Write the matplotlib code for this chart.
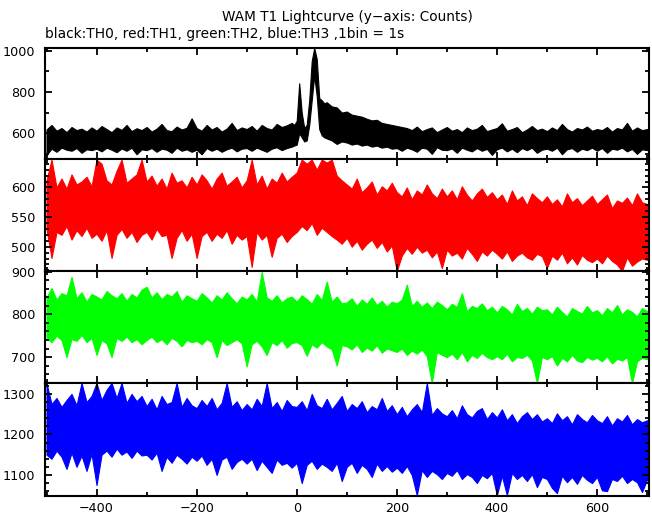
import numpy as np
import matplotlib.pyplot as plt
from matplotlib.ticker import MultipleLocator

plt.rcParams['font.family'] = ['DejaVu Sans']

# time grid (1bin = 1s, envelope read per 10 s)
t = np.arange(-500, 701, 10)
# TH0 has a finer grid around the burst
t_th0 = np.concatenate([np.arange(-500, -5, 10), np.arange(-5, 61, 5), np.arange(70, 701, 10)])

# TH0 (black) upper / lower envelope
th0_hi = [618, 640, 612, 625, 605, 630, 615, 622, 608, 628,
          612, 635, 620, 605, 628, 616, 640, 610, 624, 615,
          630, 608, 622, 645, 615, 610, 632, 618, 626, 672,
          625, 612, 640, 618, 630, 608, 622, 650, 615, 628,
          620, 635, 612, 640, 625, 618, 645, 630, 638, 650,
          640, 660, 842, 700, 625, 640, 760, 950, 1013, 960, 770, 760, 745, 750,
          730, 725, 700, 705, 690, 685, 680, 670, 662, 665, 650, 645, 640,
          635, 630, 625, 615, 632, 610, 620, 628, 605, 618,
          630, 612, 620, 605, 628, 615, 622, 640, 610, 618,
          625, 648, 612, 620, 630, 605, 618, 635, 615, 622,
          610, 628, 615, 645, 620, 608, 625, 618, 632, 612,
          620, 615, 630, 608, 625, 618, 650, 612, 628, 615,
          620]
th0_lo = [495, 525, 510, 530, 520, 515, 528, 505, 522, 518,
          525, 512, 530, 520, 508, 526, 515, 530, 498, 522,
          518, 528, 510, 525, 520, 505, 530, 515, 522, 510,
          520, 498, 528, 515, 525, 510, 522, 530, 512, 525,
          528, 515, 530, 520, 510, 525, 532, 518, 528, 535,
          540, 545, 600, 580, 560, 565, 640, 760, 880, 780, 620, 590, 580, 575,
          565, 548, 560, 555, 545, 550, 540, 545, 535, 540, 530, 535, 525,
          528, 515, 530, 522, 510, 530, 525, 500, 532, 520,
          518, 526, 505, 530, 520, 512, 528, 515, 524, 495,
          522, 530, 512, 525, 508, 528, 518, 530, 505, 520,
          525, 515, 530, 498, 522, 528, 510, 525, 518, 530,
          515, 528, 505, 525, 520, 530, 512, 524, 500, 522,
          518]

# TH1 (red)
th1_hi = [612, 647, 600, 615, 598, 622, 605, 610, 618, 602,
          647, 640, 612, 605, 628, 647, 608, 615, 622, 647,
          610, 620, 603, 615, 598, 625, 608, 612, 600, 618,
          605, 622, 612, 598, 615, 625, 603, 610, 618, 600,
          612, 647, 605, 620, 598, 615, 608, 625, 610, 618,
          625, 647, 640, 647, 630, 647, 642, 647, 620, 612,
          605, 598, 615, 592, 600, 610, 588, 602, 595, 608,
          592, 585, 600, 580, 595, 588, 605, 590, 582, 598,
          585, 595, 580, 602, 588, 578, 590, 598, 584, 592,
          580, 588, 572, 595, 578, 585, 570, 590, 582, 575,
          585, 572, 580, 568, 590, 575, 582, 570, 578, 586,
          572, 580, 588, 565, 578, 574, 583, 570, 590, 575,
          572]
th1_lo = [530, 481, 525, 520, 535, 512, 528, 518, 532, 515,
          522, 510, 528, 481, 520, 530, 515, 525, 508, 520,
          525, 512, 530, 518, 520, 481, 515, 528, 510, 522,
          481, 518, 525, 510, 522, 515, 528, 505, 520, 512,
          518, 466, 525, 512, 520, 483, 515, 522, 508, 518,
          525, 535, 528, 540, 520, 532, 525, 518, 512, 505,
          515, 500, 510, 495, 505, 512, 498, 508, 492, 502,
          459, 485, 498, 488, 500, 490, 495, 482, 492, 464,
          495, 485, 490, 480, 498, 488, 476, 492, 485, 495,
          488, 480, 492, 476, 485, 490, 482, 478, 488, 484,
          464, 485, 478, 490, 472, 482, 470, 486, 478, 474,
          480, 472, 485, 476, 470, 459, 482, 468, 475, 480,
          478]

# TH2 (green)
th2_hi = [840, 862, 835, 850, 845, 888, 838, 852, 830, 848,
          842, 835, 855, 845, 838, 850, 832, 848, 840, 858,
          865, 840, 852, 836, 848, 842, 855, 830, 845, 838,
          832, 850, 840, 828, 845, 835, 852, 838, 826, 842,
          835, 848, 830, 900, 840, 832, 845, 828, 838, 842,
          830, 845, 836, 825, 848, 834, 877, 830, 842, 826,
          828, 838, 820, 835, 825, 840, 822, 832, 818, 830,
          826, 835, 870, 820, 832, 818, 828, 815, 830, 822,
          812, 825, 818, 850, 808, 820, 815, 826, 810, 818,
          805, 820, 812, 800, 825, 808, 815, 802, 818, 810,
          812, 800, 818, 806, 795, 815, 808, 802, 820, 805,
          810, 798, 815, 805, 822, 800, 812, 806, 795, 815,
          808]
th2_lo = [745, 735, 750, 740, 700, 742, 738, 752, 735, 745,
          705, 740, 732, 700, 745, 738, 748, 735, 742, 730,
          740, 748, 735, 742, 730, 745, 738, 725, 740, 735,
          738, 730, 742, 735, 700, 740, 728, 735, 742, 732,
          678, 730, 738, 725, 705, 735, 728, 740, 722, 733,
          735, 728, 703, 730, 722, 735, 725, 718, 680, 728,
          725, 718, 730, 712, 722, 715, 728, 710, 720, 716,
          712, 720, 705, 715, 708, 718, 702, 639, 712, 705,
          700, 708, 695, 712, 690, 705, 698, 710, 700, 695,
          702, 695, 708, 690, 700, 698, 705, 692, 639, 700,
          695, 702, 680, 698, 690, 705, 692, 688, 700, 694,
          698, 690, 702, 685, 696, 692, 700, 639, 690, 698,
          695]

# TH3 (blue)
th3_hi = [1327, 1275, 1290, 1268, 1285, 1300, 1272, 1327, 1280, 1295,
          1327, 1285, 1310, 1327, 1290, 1327, 1278, 1300, 1282, 1295,
          1270, 1288, 1262, 1295, 1275, 1280, 1327, 1268, 1290, 1272,
          1265, 1285, 1270, 1290, 1262, 1278, 1327, 1268, 1282, 1260,
          1275, 1262, 1288, 1270, 1327, 1265, 1280, 1258, 1285, 1270,
          1268, 1282, 1260, 1300, 1272, 1265, 1288, 1262, 1278, 1295,
          1258, 1275, 1265, 1282, 1255, 1270, 1262, 1290, 1258, 1272,
          1250, 1268, 1245, 1262, 1275, 1255, 1327, 1248, 1265, 1252,
          1245, 1260, 1240, 1272, 1250, 1242, 1258, 1265, 1238, 1255,
          1242, 1262, 1235, 1250, 1228, 1245, 1255, 1238, 1250, 1232,
          1240, 1228, 1252, 1235, 1245, 1225, 1250, 1238, 1230, 1248,
          1235, 1228, 1245, 1222, 1240, 1232, 1248, 1225, 1238, 1230,
          1235]
th3_lo = [1150, 1140, 1160, 1145, 1115, 1155, 1120, 1148, 1110, 1152,
          1075, 1150, 1160, 1145, 1165, 1150, 1158, 1142, 1160, 1148,
          1150, 1138, 1155, 1110, 1145, 1130, 1150, 1140, 1128, 1145,
          1135, 1148, 1125, 1140, 1100, 1138, 1145, 1115, 1132, 1140,
          1128, 1140, 1112, 1135, 1120, 1105, 1138, 1125, 1130, 1118,
          1130, 1080, 1125, 1135, 1115, 1128, 1120, 1110, 1130, 1085,
          1120, 1130, 1105, 1125, 1115, 1095, 1128, 1110, 1122, 1108,
          1118, 1105, 1122, 1100, 1050, 1112, 1095, 1110, 1102, 1090,
          1105, 1098, 1112, 1090, 1102, 1095, 1080, 1100, 1092, 1105,
          1050, 1098, 1050, 1105, 1090, 1100, 1085, 1102, 1070, 1095,
          1090, 1068, 1055, 1098, 1082, 1095, 1078, 1100, 1088, 1080,
          1095, 1062, 1060, 1090, 1085, 1098, 1080, 1090, 1082, 1058,
          1088]

panels = [
    (t_th0, th0_hi, th0_lo, 'black', (475, 1013), 200, 100),
    (t, th1_hi, th1_lo, '#ff0000', (459, 648), 50, 10),
    (t, th2_hi, th2_lo, '#00ff00', (639, 902), 100, 20),
    (t, th3_hi, th3_lo, '#0000ff', (1048, 1327), 100, 20),
]

fig = plt.figure(figsize=(6.52, 5.15), dpi=100)
left, width = 45 / 652, 604 / 652
tops = [48, 159, 271, 383, 496]

for i, (tt, hi, lo, col, ylim, ymaj, ymin) in enumerate(panels):
    b = 1 - tops[i + 1] / 515
    h = (tops[i + 1] - tops[i]) / 515
    ax = fig.add_axes([left, b, width, h])
    ax.fill_between(tt, lo, hi, color=col, lw=0.8, edgecolor=col)
    ax.set_xlim(-503, 704)
    ax.set_ylim(*ylim)
    ax.xaxis.set_major_locator(MultipleLocator(200))
    ax.xaxis.set_minor_locator(MultipleLocator(100))
    ax.yaxis.set_major_locator(MultipleLocator(ymaj))
    ax.yaxis.set_minor_locator(MultipleLocator(ymin))
    ax.tick_params(which='both', direction='in', top=True, right=True, width=1.3, labelsize=9.2)
    ax.tick_params(which='major', length=5)
    ax.tick_params(which='minor', length=3)
    ax.tick_params(axis='y', pad=7)
    ax.tick_params(axis='x', pad=4)
    for s in ax.spines.values():
        s.set_linewidth(1.5)
    if i < 3:
        ax.set_xticklabels([])

fig.text(347 / 652, 1 - 17 / 515, 'WAM T1 Lightcurve (y\u2212axis: Counts)', ha='center', va='center', fontsize=9.8)
fig.text(45 / 652, 1 - 34 / 515, 'black:TH0, red:TH1, green:TH2, blue:TH3 ,1bin = 1s', ha='left', va='center', fontsize=9.9)

fig.savefig('out.png', dpi=100)
